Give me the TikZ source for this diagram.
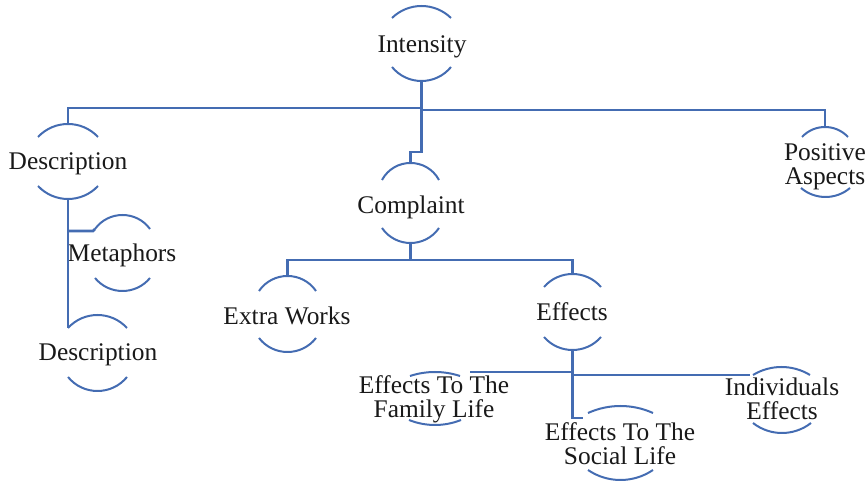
\documentclass[tikz,border=0pt]{standalone}
\usepackage{fontspec}
\setmainfont{Liberation Serif}
\usetikzlibrary{calc}
\definecolor{linkblue}{RGB}{68,108,178}
\definecolor{inkgray}{RGB}{25,25,25}
% one open half of a ring, drawn as a circular arc:
% left x, right x, end y, peak y; names the peak
\newcommand\halfring[5]{%
  \draw[ring] (#2,#4) .. controls ({#2+2/3*((#3-#2)/2-(#5-#4)^2/((#3-#2)/2))},{#4+4*(#5-#4)/3})
    and ({#3-2/3*((#3-#2)/2-(#5-#4)^2/((#3-#2)/2))},{#4+4*(#5-#4)/3}) .. (#3,#4);
  \coordinate (#1) at ({(#2+#3)/2},#5);
}
\begin{document}
\begin{tikzpicture}[x=0.5pt,y=-0.5pt,
  ring/.style={draw=linkblue,line width=1pt},
  link/.style={draw=linkblue,line width=1.3pt},
  lbl/.style={font=\fontsize{12.7pt}{12.3pt}\selectfont,text=inkgray,inner sep=0pt,align=center,anchor=base}]
\useasboundingbox (0,0) rectangle (868,485);

% topics (placed by the baseline of their last line)
\node[lbl] (intensity) at (422,53) {Intensity};
\halfring{intensity-t}{392}{451}{18}{6}
\halfring{intensity-b}{392}{451}{67}{81}

\node[lbl] (description) at (68,170) {Description};
\halfring{description-t}{38}{98}{137}{124}
\halfring{description-b}{38}{98}{186}{199}

\node[lbl] (metaphors) at (122,262) {Metaphors};
\halfring{metaphors-t}{95}{150}{229}{215}
\halfring{metaphors-b}{95}{150}{278}{291}
\coordinate (metaphors-l) at (95,229);

\node[lbl] (details) at (98,361) {Description};
\halfring{details-t}{68}{127}{328}{315}
\halfring{details-b}{68}{127}{377}{391}
\coordinate (details-l) at (68,328);

\node[lbl] (positive) at (825,185) {Positive\\Aspects};
\halfring{positive-t}{802}{848}{137}{127}
\halfring{positive-b}{801}{850}{188}{197}

\node[lbl] (complaint) at (411,214) {Complaint};
\halfring{complaint-t}{382}{439}{180}{163}
\halfring{complaint-b}{382}{439}{228}{243}

\node[lbl] (extra) at (287,325) {Extra Works};
\halfring{extra-t}{259}{316}{291}{276}
\halfring{extra-b}{259}{316}{338}{352}

\node[lbl] (effects) at (572,321) {Effects};
\halfring{effects-t}{544}{601}{287}{274}
\halfring{effects-b}{544}{601}{337}{350}

\node[lbl] (family) at (434,418) {Effects To The\\Family Life};
\halfring{family-t}{410}{460}{376}{372}
\halfring{family-b}{409}{461}{420}{425}
\coordinate (family-r) at (470,372);

\node[lbl] (social) at (620,465) {Effects To The\\Social Life};
\halfring{social-t}{588}{653}{413}{406}
\halfring{social-b}{588}{653}{470}{480}
\coordinate (social-l) at (583,418);

\node[lbl] (individuals) at (782,420) {Individuals\\Effects};
\halfring{individuals-t}{753}{810}{375}{367}
\halfring{individuals-b}{753}{811}{423}{433}
\coordinate (individuals-l) at (750,375);

% connectors
\draw[link] (intensity-b) -- ++(0,27) -| (description-t);
\draw[link] (intensity-b) -- ++(0,29) -| (positive-t);
\draw[link] (intensity-b) -- ++(0,71) -| (complaint-t);

\draw[link] (description-b) -- (details-l);
\draw[link] (description-b |- 0,231) -- ++(25,0) -- (metaphors-l);

\draw[link] (complaint-b) -- ++(0,17) -| (extra-t);
\draw[link] (complaint-b) -- ++(0,17) -| (effects-t);

\draw[link] (effects-b) |- (social-l);
\draw[link] (effects-b |- family-r) -- (family-r);
\draw[link] (effects-b |- individuals-l) -- (individuals-l);
\end{tikzpicture}
\end{document}
